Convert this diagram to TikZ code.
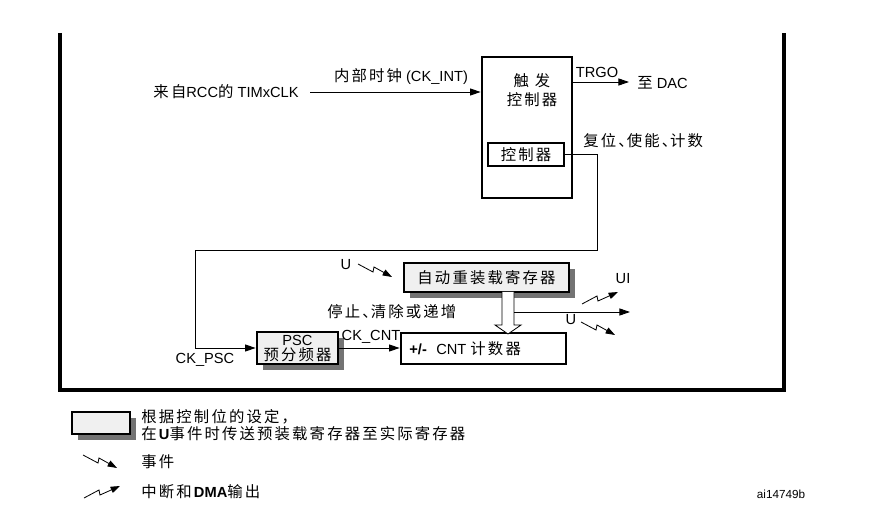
\documentclass[tikz,border=0pt]{standalone}
\usepackage{fontspec}
\setmainfont{Liberation Sans}
\newfontfamily\cjk[Scale=1.05,LetterSpace=14]{Noto Sans CJK SC}
\newcommand{\zh}[1]{{\cjk #1}}
\newcommand{\dun}{、\kern-6pt}
\usetikzlibrary{positioning,arrows.meta,shadows}
\tikzset{
  blk/.style={draw=black,line width=2.4pt,inner sep=0pt,fill=white},
  reg/.style={blk,fill=black!6,drop shadow={shadow xshift=5pt,shadow yshift=-5pt,fill=black!55,opacity=1}},
  wire/.style={draw=black,line width=0.8pt},
  sig/.style={wire,-{Triangle[length=9pt,width=6pt]}},
  lbl/.style={inner sep=1pt},
  frame/.style={draw=black,line width=2.6pt},
  hollow/.style={draw=black,line width=0.7pt,fill=white},
}
\tikzset{
  evt/.pic={\draw[line width=0.7pt,-{Triangle[length=8pt,width=5.5pt]}] (0,0) -- (15,8) -- (16,3) -- (34,13);},
  irq/.pic={\draw[line width=0.7pt,-{Triangle[length=8pt,width=5.5pt]}] (0,0) -- (15,-8) -- (16,-3) -- (36,-12);}
}

\begin{document}
\begin{tikzpicture}[x=0.03cm,y=-0.03cm,font=\fontsize{12.5}{14}\selectfont]
\useasboundingbox (0,0) rectangle (874,514);
% frame
\draw[frame] (60,33) -- (60,390) -- (784,390) -- (784,33);

% trigger controller
\node[blk,minimum width=2.7cm,minimum height=4.23cm] (trig) at (527,127.5) {};
\node[lbl,align=center] (trigtxt) at (532,90) {\zh{触\hspace{5pt}发}\\[2pt]\zh{控制器}};
\node[blk,minimum width=2.28cm,minimum height=0.69cm] (ctl) at (526,154.5) {\zh{控制器}};

\node[lbl,anchor=east] (clk) at (300,92) {\zh{来自}RCC\zh{的} TIMxCLK};
\coordinate (clkout) at (310,92);
\draw[sig] (clkout) -- (trig.west |- clkout);
\node[lbl] (cki) at (401,77) {\zh{内部时钟} (CK\_INT)};

\coordinate (dac) at (629,82);
\draw[sig] (trig.east |- dac) -- (dac);
\node[lbl] (trgo) at (597,72) {TRGO};
\node[lbl,anchor=west] (dactxt) at (636,83) {\zh{至} DAC};
\node[lbl,anchor=west] (rst) at (582,141) {\zh{复位\dun 使能\dun 计数}};

% counter part
\node[reg,minimum width=4.95cm,minimum height=0.87cm] (arr) at (486.5,277.5) {\zh{自动重装载寄存器}};
\node[blk,minimum width=4.95cm,minimum height=0.93cm] (cnt) at (483.5,348.5) {};
\node[lbl,anchor=west] (cnttxt) at (408,348.5) {\textbf{+/-}\hspace{8pt}CNT \zh{计数器}};
\node[reg,minimum width=2.43cm,minimum height=0.96cm] (psc) at (297.5,348) {};
\node[inner sep=0pt] (psctop) at (297.5,340.5) {PSC};
\node[inner sep=0pt] (pscbot) at (297.5,355) {\zh{预分频器}};

\coordinate (bend1) at (597,250);
\coordinate (bend2) at (195,250);
\draw[sig] (ctl.east) -| (bend1) -- (bend2) |- (psc.west);
\node[lbl] (ckpsc) at (205,360) {CK\_PSC};
\draw[sig] (psc.east) -- (cnt.west |- psc.east);
\node[lbl] (ckcnt) at (371,337) {CK\_CNT};

\coordinate (pre) at (508,292);
\draw[hollow,shift={(pre)}] (-6,0) -- (-6,33) -- (-13,33) -- (0,42) -- (13,33) -- (6,33) -- (6,0);
\node[lbl,anchor=west] (inc) at (326,312) {\zh{停止\dun 清除或递增}};

\coordinate (tap) at (514,312);
\coordinate (upd) at (630,312);
\draw[sig] (tap) -- (upd);

\node[lbl] (u1) at (346,265) {U};
\pic at (358,264) {evt};
\node[lbl] (ui) at (623,279) {UI};
\pic at (582,304) {irq};
\node[lbl] (u2) at (571,320) {U};
\pic at (581,322) {evt};

% legend
\node[reg,minimum width=1.74cm,minimum height=0.66cm] (key) at (101,423) {};
\node[lbl,anchor=west,align=left] (keytxt) at (140,425) {\zh{根据控制位的设定，}\\\zh{在}\textbf{U}\zh{事件时传送预装载寄存器至实际寄存器}};
\pic at (83,455) {evt};
\node[lbl,anchor=west] (evttxt) at (140,462) {\zh{事件}};
\pic at (84,498) {irq};
\node[lbl,anchor=west] (irqtxt) at (140,492) {\zh{中断和}\textbf{DMA}\zh{输出}};
\node[lbl] (tag) at (781,494) {\fontsize{10}{12}\selectfont ai14749b};
\end{tikzpicture}
\end{document}
